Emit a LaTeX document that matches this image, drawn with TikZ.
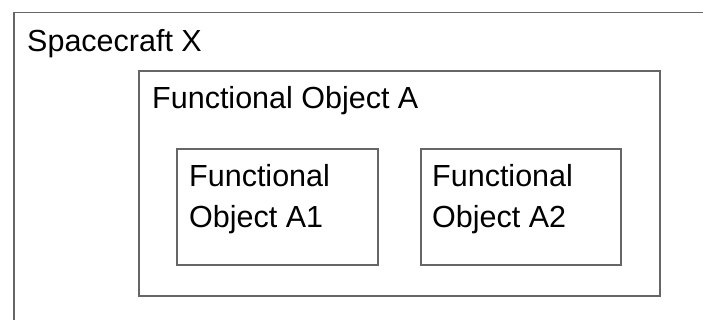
\documentclass[tikz,border=0pt]{standalone}
\usepackage{fontspec}
\setmainfont{Liberation Sans}
\begin{document}
\begin{tikzpicture}[x=1pt,y=-1pt,
  box/.style={draw=black!60, line width=1.3pt, anchor=north west, inner sep=0pt, outer sep=0pt},
  lbl/.style={anchor=base west, inner sep=0pt, font=\fontsize{30.5}{36}\selectfont, text=black}]
\useasboundingbox (0,0) rectangle (703,320);
\clip (0,0) rectangle (703,320);
\node[box, minimum width=720pt, minimum height=340pt] (sc) at (14,12.5) {};
\node[box, minimum width=521pt, minimum height=225pt] (A) at (139,71) {};
\node[box, minimum width=201pt, minimum height=116pt] (A1) at (177,149) {};
\node[box, minimum width=200pt, minimum height=116pt] (A2) at (421,149) {};
\node[lbl] (tsc) at (27,52) {Spacecraft X};
\node[lbl] (tA) at (152,109) {Functional Object A};
\node[lbl] (tA1a) at (189,187) {Functional};
\node[lbl] (tA1b) at (189,227) {Object A1};
\node[lbl] (tA2a) at (432,187) {Functional};
\node[lbl] (tA2b) at (432,227) {Object A2};
\end{tikzpicture}
\end{document}
